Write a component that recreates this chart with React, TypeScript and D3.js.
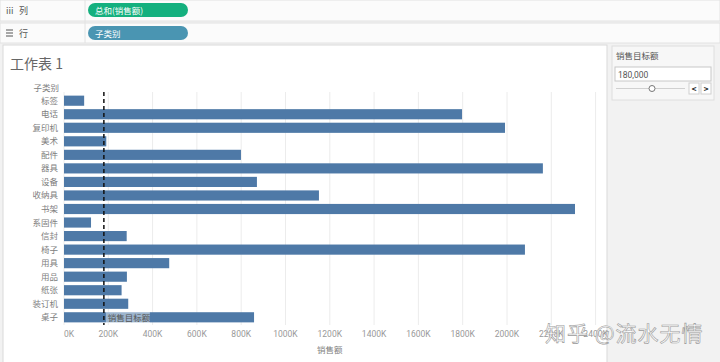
import * as d3 from 'd3'

const categories = ['标签', '电话', '复印机', '美术', '配件', '器具', '设备', '收纳具', '书架', '系固件', '信封', '椅子', '用具', '用品', '纸张', '装订机', '桌子']
const sales = [91000, 1797000, 1991000, 191000, 799000, 2162000, 871000, 1151000, 2307000, 122000, 283000, 2081000, 475000, 284000, 260000, 290000, 858000]
const ticks = [0, 200000, 400000, 600000, 800000, 1000000, 1200000, 1400000, 1600000, 1800000, 2000000, 2200000, 2400000]
const target = 180000

const FONT = '"Noto Sans CJK SC", "Noto Sans", sans-serif'
const BAR = '#4e79a7'
const GRID = '#ececec'
const TEXT = '#808080'

export default function App() {
  const width = 720
  const height = 362

  const x = d3.scaleLinear().domain([0, 2400000]).range([64, 595.6])
  const y = d3.scaleBand().domain(categories).range([94, 324]).paddingInner(0.25).paddingOuter(0.12)
  const fmt = (v: number) => `${v / 1000}K`
  const tx = x(target)

  return (
    <svg
      width={width}
      height={height}
      style={{ position: 'absolute', left: 0, top: 0, display: 'block' }}
      fontFamily={FONT}
    >
      <rect x={0} y={0} width={width} height={height} fill="#f2f2f2" />

      {/* shelves */}
      <rect x={0} y={0} width={width} height={21} fill="#fbfbfb" stroke="#e2e2e2" />
      <rect x={0} y={23} width={width} height={20} fill="#fbfbfb" stroke="#e2e2e2" />
      <line x1={85} x2={85} y1={0} y2={43} stroke="#e2e2e2" />
      <text x={6} y={14} fontSize={9} fill="#555">iii</text>
      <text x={19} y={14} fontSize={9} fill="#555">列</text>
      <g stroke="#555" strokeWidth={1}>
        <line x1={6} x2={13} y1={30} y2={30} />
        <line x1={6} x2={13} y1={33} y2={33} />
        <line x1={6} x2={13} y1={36} y2={36} />
      </g>
      <text x={19} y={37} fontSize={9} fill="#555">行</text>
      <rect x={88} y={3} width={100} height={14} rx={7} fill="#14b07e" />
      <text x={95} y={13.5} fontSize={8.5} fill="#fff">总和(销售额)</text>
      <rect x={88} y={26} width={100} height={14} rx={7} fill="#4a95b2" />
      <text x={95} y={36.5} fontSize={8.5} fill="#fff">子类别</text>

      {/* sheet */}
      <rect x={3} y={45} width={604} height={320} fill="#fff" stroke="#d9d9d9" />
      <text x={10} y={69} fontSize={14} fill="#666">工作表 1</text>
      <text x={59} y={91} fontSize={8.5} fill={TEXT} textAnchor="end">子类别</text>

      {ticks.map((t) => (
        <line key={t} x1={x(t)} x2={x(t)} y1={92} y2={325} stroke={GRID} />
      ))}

      {categories.map((c, i) => (
        <g key={c}>
          <rect x={x(0)} y={y(c)} width={x(sales[i]) - x(0)} height={y.bandwidth()} fill={BAR} />
          <text x={58} y={(y(c) as number) + y.bandwidth() / 2 + 3} fontSize={8.5} fill={TEXT} textAnchor="end">
            {c}
          </text>
        </g>
      ))}

      <line x1={tx} x2={tx} y1={92} y2={325} stroke="#111" strokeWidth={1.5} strokeDasharray="4,3" />
      <rect x={tx + 2} y={311.5} width={44} height={12} fill="#fff" opacity={0.45} />
      <text x={tx + 4} y={321} fontSize={8.5} fill="#555">销售目标额</text>

      {ticks.map((t, i) => (
        <text
          key={t}
          x={x(t)}
          y={337}
          fontSize={8.5}
          fill="#999"
          textAnchor={i === 0 ? 'start' : 'middle'}
          fontFamily="Roboto, sans-serif"
        >
          {fmt(t)}
        </text>
      ))}
      <text x={(x(0) + x(2400000)) / 2} y={353} fontSize={8.5} fill={TEXT} textAnchor="middle">销售额</text>

      {/* parameter card */}
      <rect x={612} y={46} width={102} height={54} fill="#f7f7f7" stroke="#dedede" />
      <text x={616} y={59} fontSize={8.5} fill="#555">销售目标额</text>
      <rect x={615} y={67} width={96} height={14} fill="#fff" stroke="#c8c8c8" />
      <text x={618} y={77.5} fontSize={8.5} fill="#555" fontFamily="Roboto, sans-serif">180,000</text>
      <line x1={616} x2={685} y1={88.5} y2={88.5} stroke="#d0d0d0" />
      <circle cx={652} cy={88.5} r={3} fill="#fff" stroke="#777" />
      <rect x={689} y={83} width={10} height={11} fill="#fff" stroke="#d0d0d0" />
      <rect x={701} y={83} width={10} height={11} fill="#fff" stroke="#d0d0d0" />
      <text x={694} y={91.5} fontSize={8} fill="#222" textAnchor="middle" fontWeight="bold">&lt;</text>
      <text x={706} y={91.5} fontSize={8} fill="#222" textAnchor="middle" fontWeight="bold">&gt;</text>

      {/* watermark */}
      <text x={545} y={341} fontSize={21} letterSpacing={1} fill="#fff" fillOpacity={0.85} stroke="#9a9a9a" strokeWidth={0.6}>
        知乎 @流水无情
      </text>
    </svg>
  )
}
